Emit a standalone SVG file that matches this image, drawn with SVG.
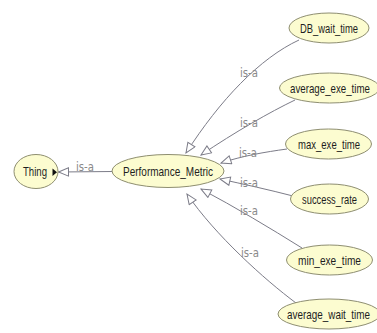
<svg xmlns="http://www.w3.org/2000/svg" width="377" height="333" viewBox="0 0 377 333">
  <defs>
    <marker id="isa" markerUnits="userSpaceOnUse" markerWidth="13" markerHeight="11" refX="11" refY="5" orient="auto">
      <path d="M1,0.8 L11,5 L1,9.2 Z" fill="#ffffff" stroke="#7c7c88" stroke-width="1"/>
    </marker>
    <style>
      .node ellipse { fill: #fcfcd0; stroke: #8e8e70; stroke-width: 1; }
      .node text { font-family: "Liberation Sans", Arial, sans-serif; font-size: 13px; fill: #1e1e1e; text-anchor: middle; }
      .edge { fill: none; stroke: #7c7c88; stroke-width: 1; marker-end: url(#isa); }
      .lbl { font-family: "Liberation Sans Narrow", "DejaVu Sans Condensed", "Liberation Sans", sans-serif; font-size: 11.5px; fill: #8a8a8a; }
    </style>
  </defs>
  <rect width="377" height="333" fill="#ffffff"/>

  <!-- is-a connectors, child class to parent class -->
  <g id="connectors">
    <path class="edge" d="M113,171.5 L58.5,172"/>
    <path class="edge" d="M299,40 C260,58 220,100 186,153"/>
    <path class="edge" d="M295,100 C270,112 235,132 201,155"/>
    <path class="edge" d="M287,149 C265,152 242,156 221,163"/>
    <path class="edge" d="M293,196 C270,190 243,184 220,179"/>
    <path class="edge" d="M302,248 C270,228 235,207 201,189"/>
    <path class="edge" d="M296,303 C265,280 215,235 187,194"/>
    <text class="lbl" x="76" y="171" textLength="18" lengthAdjust="spacingAndGlyphs">is-a</text>
    <text class="lbl" x="240" y="77" textLength="18" lengthAdjust="spacingAndGlyphs">is-a</text>
    <text class="lbl" x="240" y="127" textLength="18" lengthAdjust="spacingAndGlyphs">is-a</text>
    <text class="lbl" x="239" y="157" textLength="18" lengthAdjust="spacingAndGlyphs">is-a</text>
    <text class="lbl" x="240" y="187" textLength="18" lengthAdjust="spacingAndGlyphs">is-a</text>
    <text class="lbl" x="240" y="215" textLength="18" lengthAdjust="spacingAndGlyphs">is-a</text>
    <text class="lbl" x="241" y="257" textLength="18" lengthAdjust="spacingAndGlyphs">is-a</text>
  </g>

  <!-- node labels are set in a horizontally condensed sans -->
  <g id="Thing" class="node">
    <ellipse cx="36" cy="171.5" rx="22" ry="17"/>
    <text transform="translate(35,176) scale(0.74,1)">Thing</text>
    <polygon points="52.5,168.5 57,172.3 52.5,176" fill="#111111"/>
  </g>

  <g id="Performance_Metric" class="node">
    <ellipse cx="168" cy="171" rx="56" ry="16.5"/>
    <text transform="translate(168,175.5) scale(0.77,1)">Performance_Metric</text>
  </g>

  <g id="DB_wait_time" class="node">
    <ellipse cx="329" cy="28" rx="40" ry="15"/>
    <text transform="translate(329,32.5) scale(0.723,1)">DB_wait_time</text>
  </g>

  <g id="average_exe_time" class="node">
    <ellipse cx="329.5" cy="88" rx="50" ry="15"/>
    <text transform="translate(330,92.5) scale(0.748,1)">average_exe_time</text>
  </g>

  <g id="max_exe_time" class="node">
    <ellipse cx="328.5" cy="144" rx="43" ry="15"/>
    <text transform="translate(329,148.5) scale(0.734,1)">max_exe_time</text>
  </g>

  <g id="success_rate" class="node">
    <ellipse cx="329.5" cy="199" rx="39" ry="15"/>
    <text transform="translate(329.5,203.5) scale(0.718,1)">success_rate</text>
  </g>

  <g id="min_exe_time" class="node">
    <ellipse cx="329.5" cy="260" rx="43" ry="15"/>
    <text transform="translate(329.5,264.5) scale(0.779,1)">min_exe_time</text>
  </g>

  <g id="average_wait_time" class="node">
    <ellipse cx="329" cy="314" rx="51" ry="15"/>
    <text transform="translate(328.5,318.5) scale(0.761,1)">average_wait_time</text>
  </g>
</svg>
